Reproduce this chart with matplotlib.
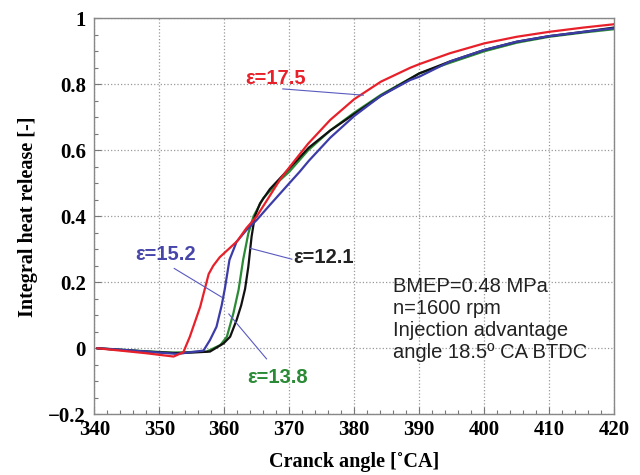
import matplotlib
matplotlib.use("Agg")
import matplotlib.pyplot as plt
from matplotlib.ticker import MultipleLocator, FixedLocator

# ---- data ----
angle_175 = [340.5, 344, 348, 352.2, 353.7, 354.7, 356.3, 357.1, 357.6, 358.3, 359.3, 360.8,
             362.0, 363.4, 365.0, 367.0, 368.6, 370.0, 372.9, 376.3, 380.0, 384.1, 388.6,
             390.0, 394.7, 400.0, 405.0, 410.0, 415.3, 420.0]
hr_175 = [0.0, -0.007, -0.015, -0.025, -0.012, 0.035, 0.126, 0.187, 0.225, 0.250, 0.276, 0.303,
          0.325, 0.364, 0.400, 0.462, 0.512, 0.548, 0.620, 0.692, 0.755, 0.808, 0.850,
          0.861, 0.894, 0.924, 0.944, 0.959, 0.972, 0.982]

angle_152 = [340.5, 344, 348, 352.7, 356.8, 357.8, 358.8, 359.6, 360.1, 360.8, 361.9, 363.4,
             365.0, 367.0, 370.0, 371.6, 373.0, 376.3, 380.0, 384.1, 388.6, 390.0, 394.7,
             400.0, 405.0, 410.0, 415.3, 420.0]
hr_152 = [0.0, -0.004, -0.010, -0.017, -0.007, 0.025, 0.065, 0.130, 0.182, 0.268, 0.323, 0.358,
          0.389, 0.434, 0.500, 0.535, 0.568, 0.638, 0.704, 0.765, 0.813, 0.823, 0.869,
          0.904, 0.929, 0.946, 0.959, 0.970]

angle_138 = [340.5, 344, 348, 352.0, 357.3, 359.4, 360.4, 361.4, 362.2, 362.9, 363.7, 364.5,
             366.0, 368.6, 370.0, 372.9, 376.3, 380.0, 384.1, 390.0, 394.7, 400.0, 405.0,
             410.0, 415.3, 420.0]
hr_138 = [0.0, -0.004, -0.009, -0.013, -0.010, 0.010, 0.035, 0.106, 0.177, 0.268, 0.348, 0.400,
          0.455, 0.510, 0.535, 0.600, 0.660, 0.714, 0.768, 0.833, 0.865, 0.900, 0.926,
          0.944, 0.957, 0.967]

angle_121 = [340.5, 344, 348, 353.0, 357.8, 359.9, 360.9, 361.9, 362.6, 363.2, 363.7, 364.2,
             364.7, 365.5, 367.0, 370.0, 373.0, 376.3, 380.0, 384.1, 390.0, 394.7, 400.0,
             405.0, 410.0, 415.3, 420.0]
hr_121 = [0.0, -0.005, -0.010, -0.015, -0.010, 0.015, 0.035, 0.086, 0.130, 0.180, 0.247, 0.338,
          0.400, 0.439, 0.482, 0.545, 0.608, 0.660, 0.710, 0.765, 0.833, 0.869, 0.904,
          0.929, 0.946, 0.959, 0.972]

series_labels = ["ε=17.5", "ε=15.2", "ε=13.8", "ε=12.1"]
x_ticks = [340, 350, 360, 370, 380, 390, 400, 410, 420]
y_ticks = [-0.2, 0, 0.2, 0.4, 0.6, 0.8, 1]
y_tick_labels = ["\u22120.2", "0", "0.2", "0.4", "0.6", "0.8", "1"]
info_text = "BMEP=0.48 MPa\nn=1600 rpm\nInjection advantage\nangle 18.5\u00ba CA BTDC"

# ---- styling ----
c_red = "#e8202a"
c_blue = "#3c3ca8"
c_green = "#2b8a35"
c_black = "#111111"
c_lead = "#5a5ac0"
serif = ["Liberation Serif", "DejaVu Serif"]
sans = ["Liberation Sans", "DejaVu Sans"]

fig = plt.figure(figsize=(6.4, 4.75), dpi=100)
ax = fig.add_axes([0.1473, 0.1278, 0.8125, 0.8337])

ax.plot(angle_138, hr_138, color=c_green, lw=1.6, zorder=3)
ax.plot(angle_121, hr_121, color=c_black, lw=1.6, zorder=3)
ax.plot(angle_152, hr_152, color=c_blue, lw=1.6, zorder=4)
ax.plot(angle_175, hr_175, color=c_red, lw=1.6, zorder=5)

ax.set_xlim(340, 420)
ax.set_ylim(-0.2, 1.0)
ax.xaxis.set_major_locator(FixedLocator(x_ticks))
ax.yaxis.set_major_locator(FixedLocator(y_ticks))
ax.set_yticklabels(y_tick_labels)
ax.xaxis.set_minor_locator(MultipleLocator(2))
ax.yaxis.set_minor_locator(MultipleLocator(0.05))
ax.tick_params(which="both", direction="in", top=False, right=False, color="#777777")
ax.tick_params(which="major", length=5, width=0.8)
ax.tick_params(which="minor", length=3, width=0.8)
ax.tick_params(axis="x", which="major", pad=4)
ax.tick_params(axis="y", which="major", pad=6)
for lab in ax.get_xticklabels() + ax.get_yticklabels():
    lab.set_fontfamily(serif)
    lab.set_fontweight("bold")
    lab.set_fontsize(15)
for sp in ax.spines.values():
    sp.set_color("#888888")
    sp.set_linewidth(1.0)
ax.grid(True, which="major", color="#999999", linestyle=":", linewidth=0.9)
ax.set_axisbelow(True)

ax.set_xlabel("Cranck angle [\u02daCA]", fontfamily=serif, fontweight="bold", fontsize=14.5, labelpad=9)
ax.set_ylabel("Integral heat release [-]", fontfamily=serif, fontweight="bold", fontsize=14.5, labelpad=7)

# annotations
lab_fs = 14.5
ax.text(363.3, 0.819, series_labels[0], color=c_red, fontsize=lab_fs, fontweight="bold",
        family=sans, va="center", ha="left")
ax.plot([369.0, 381.4], [0.786, 0.767], color=c_lead, lw=0.8, zorder=6)
ax.text(346.3, 0.283, series_labels[1], color="#4646aa", fontsize=lab_fs, fontweight="bold",
        family=sans, va="center", ha="left")
ax.plot([352.3, 359.6], [0.242, 0.155], color=c_lead, lw=0.8, zorder=6)
ax.text(363.5, -0.09, series_labels[2], color=c_green, fontsize=lab_fs, fontweight="bold",
        family=sans, va="center", ha="left")
ax.plot([360.7, 366.5], [0.104, -0.032], color=c_lead, lw=0.8, zorder=6)
ax.text(370.6, 0.274, series_labels[3], color="#222222", fontsize=lab_fs, fontweight="bold",
        family=sans, va="center", ha="left")
ax.plot([364.0, 370.4], [0.303, 0.27], color=c_lead, lw=0.8, zorder=6)

ax.text(386.0, 0.087, info_text, color="#222222", fontsize=14.5, family=sans,
        va="center", ha="left", linespacing=1.2)

fig.savefig("out.png", dpi=100)
